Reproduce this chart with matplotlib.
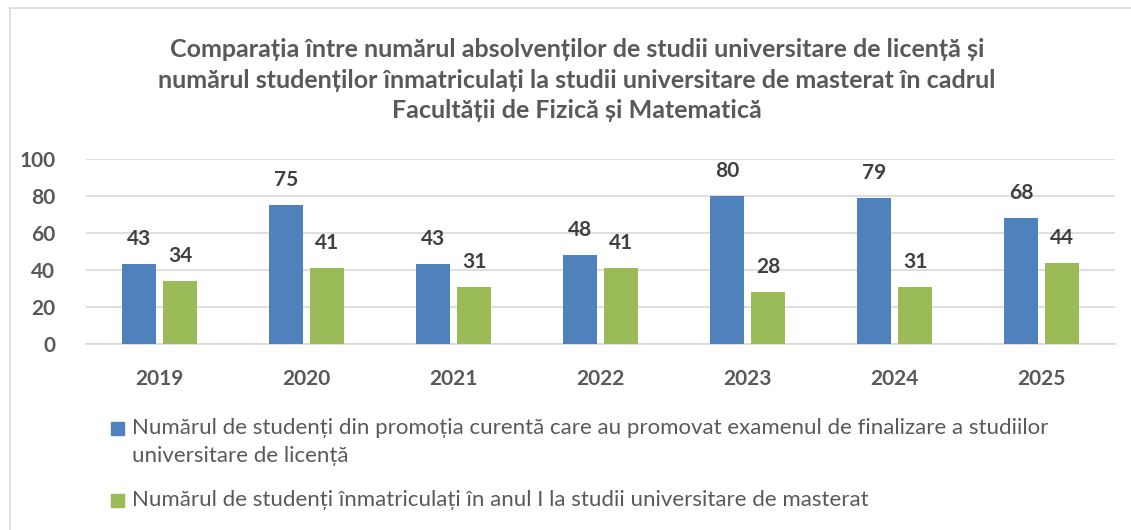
import matplotlib
matplotlib.use("Agg")
import matplotlib.pyplot as plt
import numpy as np
from matplotlib.patches import Rectangle
from matplotlib.lines import Line2D

years = ["2019", "2020", "2021", "2022", "2023", "2024", "2025"]
licenta = [43, 75, 43, 48, 80, 79, 68]
master = [34, 41, 31, 41, 28, 31, 44]
series_labels = [
    "Numărul de studenți din promoția curentă care au promovat examenul de finalizare a studiilor\nuniversitare de licență",
    "Numărul de studenți înmatriculați în anul I la studii universitare de masterat",
]
series_colors = ["#4F81BD", "#9BBB59"]
title = ("Comparația între numărul absolvenților de studii universitare de licență și\n"
         "numărul studenților înmatriculați la studii universitare de masterat în cadrul\n"
         "Facultății de Fizică și Matematică")
yticks = [0, 20, 40, 60, 80, 100]

plt.rcParams['font.family'] = ['Lato', 'DejaVu Sans']

W, H = 1131, 530
fig = plt.figure(figsize=(W / 100, H / 100), dpi=100)
ax = fig.add_axes([86 / W, 1 - 344 / H, (1115 - 86) / W, (344 - 159) / H])

x = np.arange(len(years))
bw = 0.225
gap = 0.054
off = (bw + gap) / 2
for vals, color, sign in [(licenta, series_colors[0], -1), (master, series_colors[1], 1)]:
    bars = ax.bar(x + sign * off, vals, width=bw, color=color, zorder=3)
    for b, v in zip(bars, vals):
        ax.annotate(str(v), (b.get_x() + b.get_width() / 2, v), xytext=(0, 18),
                    textcoords="offset points", ha="center", va="center",
                    fontsize=15, fontweight="bold", color="#404040")

ax.set_xlim(-0.5, len(years) - 0.5)
ax.set_ylim(0, 100)
ax.set_yticks(yticks)
ax.set_xticks(x)
ax.set_xticklabels(years)
ax.yaxis.grid(True, color="#D9D9D9", linewidth=1.2, zorder=0)
ax.set_axisbelow(True)
for s in ["top", "right", "left"]:
    ax.spines[s].set_visible(False)
ax.spines["bottom"].set_color("#D9D9D9")
ax.spines["bottom"].set_linewidth(1.2)
ax.tick_params(axis="both", length=0, labelsize=15, labelcolor="#595959")
ax.tick_params(axis="x", pad=18)
ax.tick_params(axis="y", pad=22)
for lab in ax.get_xticklabels() + ax.get_yticklabels():
    lab.set_fontweight("bold")

fig.text(577 / W, 1 - 80 / H, title, ha="center", va="center", fontsize=18,
         fontweight="bold", color="#595959", linespacing=1.42)

# legend
leg_y = [428, 500]
for lab, color, ly in zip(series_labels, series_colors, leg_y):
    fig.add_artist(Rectangle((111 / W, 1 - (ly + 6.5) / H), 13 / W, 13 / H,
                             transform=fig.transFigure, color=color))
    fig.text(132 / W, 1 - (ly - 10) / H, lab, ha="left", va="top", fontsize=16,
             color="#595959", linespacing=1.5)

# border
fig.add_artist(Line2D([10 / W, 10 / W], [0, 1 - 8 / H], transform=fig.transFigure,
                      color="#D9D9D9", linewidth=1.2))
fig.add_artist(Line2D([10 / W, 1], [1 - 8 / H, 1 - 8 / H], transform=fig.transFigure,
                      color="#D9D9D9", linewidth=1.2))

fig.savefig("out.png", dpi=100)
